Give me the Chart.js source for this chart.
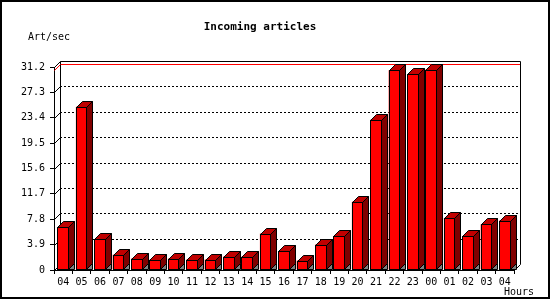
<!DOCTYPE html>
<html>
<head>
<meta charset="utf-8">
<script src="https://cdn.jsdelivr.net/npm/chart.js@4/dist/chart.umd.min.js"></script>
<style>
  body { margin: 0; background: #fff; }
  canvas { display: block; }
</style>
</head>
<body>
<canvas id="myChart" width="550" height="300"></canvas>
<script>
// hours of the day, starting at 04 and wrapping round to 04 again
const hours = ['04', '05', '06', '07', '08', '09', '10', '11', '12', '13', '14', '15', '16',
  '17', '18', '19', '20', '21', '22', '23', '00', '01', '02', '03', '04'];
// incoming articles per second
const artPerSec = [6.6, 25.1, 4.7, 2.35, 1.75, 1.6, 1.75, 1.6, 1.6, 2.05, 2.05, 5.6, 2.85,
  1.45, 3.9, 5.15, 10.5, 23.1, 30.7, 30.05, 30.8, 8.0, 5.15, 7.0, 7.6];
const yTicks = [0, 3.9, 7.8, 11.7, 15.6, 19.5, 23.4, 27.3, 31.2];

const depth = 6;
const monoFont = "'DejaVu Sans Mono', 'Liberation Mono', monospace";

function seg(ctx, x1, y1, x2, y2) {
  ctx.beginPath();
  ctx.moveTo(x1, y1);
  ctx.lineTo(x2, y2);
  ctx.stroke();
}

function poly(ctx, pts, fill) {
  ctx.beginPath();
  ctx.moveTo(pts[0][0], pts[0][1]);
  for (let i = 1; i < pts.length; i++) ctx.lineTo(pts[i][0], pts[i][1]);
  ctx.closePath();
  ctx.fillStyle = fill;
  ctx.fill();
  ctx.stroke();
}

const threeD = {
  id: 'threeD',
  beforeDatasetsDraw(chart) {
    const ctx = chart.ctx, a = chart.chartArea, y = chart.scales.y;
    const L = Math.round(a.left), R = Math.round(a.right);
    ctx.save();
    ctx.lineWidth = 1;
    ctx.strokeStyle = '#000';
    // dotted grid on the back wall
    ctx.setLineDash([2, 2]);
    yTicks.forEach(v => {
      if (v <= 0 || v >= yTicks[yTicks.length - 1]) return;
      const py = Math.round(y.getPixelForValue(v)) - depth + 0.5;
      seg(ctx, L + depth, py, R + depth, py);
    });
    ctx.setLineDash([]);
    // little diagonals from the front axis to the wall
    yTicks.forEach(v => {
      const py = Math.round(y.getPixelForValue(v)) + 0.5;
      seg(ctx, L + 0.5, py, L + depth + 0.5, py - depth);
    });
    // back wall frame
    const top = Math.round(y.getPixelForValue(yTicks[yTicks.length - 1])) - depth + 0.5;
    const bot = Math.round(y.getPixelForValue(0)) - depth + 0.5;
    seg(ctx, L + depth + 0.5, top, R + depth + 0.5, top);
    seg(ctx, L + depth + 0.5, top, L + depth + 0.5, bot);
    seg(ctx, R + depth + 0.5, top, R + depth + 0.5, bot);
    seg(ctx, R + 0.5, bot + depth, R + depth + 0.5, bot);
    // red line at the peak value
    const peak = Math.max(...artPerSec);
    const pk = Math.round(y.getPixelForValue(peak)) + 0.5;
    ctx.strokeStyle = '#ff0000';
    seg(ctx, L + depth + 1, pk - depth, R + depth, pk - depth);
    seg(ctx, L + 0.5, pk, L + depth + 0.5, pk - depth);
    ctx.restore();
  },
  afterDatasetsDraw(chart) {
    const ctx = chart.ctx;
    ctx.save();
    ctx.lineWidth = 1;
    ctx.strokeStyle = '#000';
    chart.getDatasetMeta(0).data.forEach(b => {
      const l = Math.round(b.x - b.width / 2) + 0.5;
      const r = Math.round(b.x + b.width / 2) - 0.5;
      const t = Math.round(b.y) + 0.5;
      const base = Math.round(b.base) - 0.5;
      poly(ctx, [[r, base], [r + depth, base - depth], [r + depth, base]], '#808080');
      poly(ctx, [[r, t], [r + depth, t - depth], [r + depth, base - depth], [r, base]], '#800000');
      poly(ctx, [[l, t], [l + depth, t - depth], [r + depth, t - depth], [r, t]], '#c00000');
      ctx.fillStyle = '#ff0000';
      ctx.fillRect(l, t, r - l, base - t);
      ctx.strokeRect(l, t, r - l, base - t);
    });
    ctx.restore();
  },
  afterDraw(chart) {
    const ctx = chart.ctx;
    ctx.save();
    ctx.fillStyle = '#000';
    ctx.textBaseline = 'alphabetic';
    ctx.font = 'bold 11px ' + monoFont;
    ctx.textAlign = 'center';
    ctx.fillText('Incoming articles', 260, 30);
    ctx.font = '10px ' + monoFont;
    ctx.textAlign = 'left';
    ctx.fillText('Art/sec', 28, 40);
    ctx.fillText('Hours', 504, 295);
    ctx.lineWidth = 2;
    ctx.strokeStyle = '#000';
    ctx.strokeRect(1, 1, 548, 297);
    ctx.restore();
  }
};

const ctx = document.getElementById('myChart');
new Chart(ctx, {
  type: 'bar',
  data: {
    labels: hours,
    datasets: [{
      label: 'Art/sec',
      data: artPerSec,
      backgroundColor: '#ff0000',
      borderColor: '#000',
      borderWidth: 0,
      categoryPercentage: 1,
      barPercentage: 0.62
    }]
  },
  options: {
    responsive: false,
    animation: false,
    layout: { padding: { top: 67, right: 36, left: 0, bottom: 0 } },
    plugins: { legend: { display: false }, tooltip: { enabled: false } },
    scales: {
      x: {
        grid: { drawOnChartArea: false, drawTicks: true, tickLength: 4, color: '#000', offset: true },
        border: { color: '#000' },
        ticks: { color: '#000', font: { family: monoFont, size: 10 }, padding: 2, maxRotation: 0, autoSkip: false },
        afterFit: s => { s.height = 30; }
      },
      y: {
        min: 0,
        max: 31.2,
        afterBuildTicks: s => { s.ticks = yTicks.map(v => ({ value: v })); },
        grid: { drawOnChartArea: false, drawTicks: true, tickLength: 4, color: '#000' },
        border: { color: '#000' },
        ticks: {
          color: '#000',
          font: { family: monoFont, size: 10 },
          padding: 5,
          callback: v => v === 0 ? '0' : v.toFixed(1)
        },
        afterFit: s => { s.width = 54; }
      }
    }
  },
  plugins: [threeD]
});
</script>
</body>
</html>
